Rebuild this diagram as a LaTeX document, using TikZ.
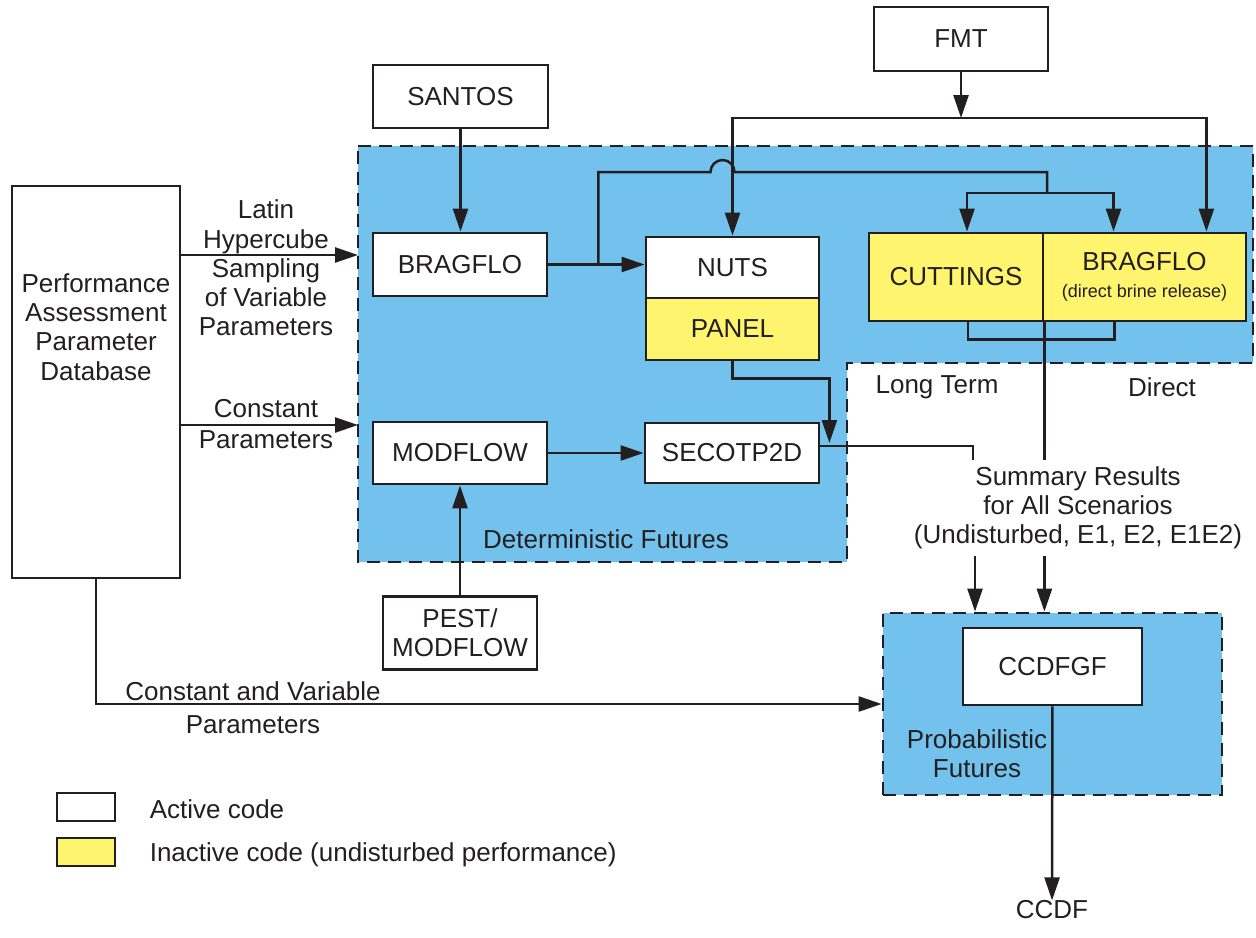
\documentclass[tikz,border=0pt]{standalone}
\usepackage{fontspec}
\setmainfont{Liberation Sans}
\usetikzlibrary{arrows.meta,positioning,calc}
\definecolor{ink}{HTML}{231F20}
\definecolor{sky}{HTML}{73C2EE}
\definecolor{lemon}{HTML}{FFF46E}

\begin{document}
\begin{tikzpicture}[x=0.5pt,y=-0.5pt,
  font=\fontsize{13pt}{14.6pt}\selectfont,text=ink,
  blk/.style={draw=ink,fill=white,line width=1.4pt,inner sep=0pt,align=center},
  idle/.style={blk,fill=lemon},
  region/.style={draw=ink,fill=sky,line width=1.4pt,dash pattern=on 6.5pt off 4pt},
  ln/.style={draw=ink,line width=1.25pt},
  ar/.style={ln,-{Triangle[length=11.5pt,width=7.5pt]}},
  lbl/.style={align=center,inner sep=0pt}]
\useasboundingbox (0,0) rectangle (1256,937);

% shaded areas
\draw[region] (358,146) -- (1253,146) -- (1253,363) -- (847,363) -- (847,562) -- (358,562) -- cycle;
\coordinate (dl) at (358,146);
\node[region,minimum width=169.5pt,minimum height=91pt] (prob) at (1052.5,704) {};

% codes
\node[blk,minimum width=84pt,minimum height=196pt] (db) at (96,382) {};
\node[lbl] at (96,327) {Performance\\Assessment\\Parameter\\Database};
\node[blk,minimum width=87.5pt,minimum height=31.5pt] (santos) at (460.5,96.5) {SANTOS};
\node[blk,minimum width=87pt,minimum height=32pt] (fmt) at (961,39) {FMT};
\node[blk,minimum width=87pt,minimum height=31.5pt] (bragflo) at (460,264.5) {BRAGFLO};
\node[blk,minimum width=86.5pt,minimum height=30.5pt] (nuts) at (732.5,267.5) {NUTS};
\node[idle,minimum width=86.5pt,minimum height=31pt] (panel) at (732.5,329) {PANEL};
\node[idle,minimum width=87pt,minimum height=44pt] (cut) at (956,277) {CUTTINGS};
\node[idle,minimum width=101.5pt,minimum height=44pt] (dbr) at (1144.5,277)
  {BRAGFLO\\[-1pt]{\fontsize{9pt}{10pt}\selectfont(direct brine release)}};
\node[blk,minimum width=87pt,minimum height=31pt] (modflow) at (460,453) {MODFLOW};
\node[blk,minimum width=87pt,minimum height=30pt] (secotp) at (732,453) {SECOTP2D};
\node[blk,minimum width=77pt,minimum height=36.5pt] (pest) at (460,633) {PEST/\\MODFLOW};
\node[blk,minimum width=89.5pt,minimum height=38.5pt] (ccdfgf) at (1052.5,666.5) {CCDFGF};

% texts
\node[lbl,inner sep=3pt] (sum) at (1078,508) {Summary Results\\for All Scenarios\\(Undisturbed, E1, E2, E1E2)};
\node[lbl] at (266,268) {Latin\\Hypercube\\Sampling\\of Variable\\Parameters};
\node[lbl] at (266,424) {Constant\\[1pt]Parameters};
\node[lbl] at (253,708) {Constant and Variable\\[2pt]Parameters};
\node[lbl] at (606,539) {Deterministic Futures};
\node[lbl] at (937,387) {Long Term};
\node[lbl] at (1162,387) {Direct};
\node[lbl] at (977,754) {Probabilistic\\Futures};
\node[lbl] (ccdf) at (1052,910) {CCDF};

% legend
\node[blk,minimum width=29pt,minimum height=14pt] (kact) at (86,807) {};
\node[idle,minimum width=29pt,minimum height=14pt] (kina) at (86,852) {};
\node[lbl,right=16.5pt of kact,yshift=-1pt] {Active code};
\node[lbl,right=16.5pt of kina,yshift=-1.5pt] {Inactive code (undisturbed performance)};

% connectors
\draw[ar] (santos.south) -- (santos.south |- bragflo.north);
\draw[ar] (bragflo.east) -- (bragflo.east -| nuts.west);
\draw[ar] (modflow) -- (secotp);
\draw[ar] (pest) -- (modflow);
\draw[ar] (ccdfgf) -- (ccdf);

\coordinate (ft) at (961,118);
\draw[ar] (fmt) -- (ft);
\draw[ar] (ft) -| (nuts.north);
\draw[ar] (ft) -| ($(dbr.north east)+(-41,0)$);

\coordinate (bj) at ($(bragflo.east)+(50,0)$);
\coordinate (hop) at (nuts.north |- 0,172);
\coordinate (bk) at (1047,172);
\draw[ln] (bj) |- ([xshift=-11pt]hop) arc[start angle=180,end angle=0,radius=6pt] -- (bk) -- ++(0,21) coordinate (bm);
\draw[ar] (bm) -| ($(cut.north)+(11,0)$);
\draw[ar] (bm) -| ($(dbr.north)+(-31,0)$);

\draw[ln] ($(cut.south)+(12,0)$) -- ++(0,17) -| ($(dbr.south)+(-30,0)$);
\draw[ln] (cut.south east) -- (cut.south east |- sum.north);

\coordinate (so) at ($(secotp.east)+(0,-7)$);
\draw[ln] (so) -| ($(sum.north)+(-105,0)$);
\draw[ar] (panel.south) -- ++(0,17) -| ($(so)+(9,-3)$);

\draw[ar] (db.east |- 0,255) -- (dl |- 0,255);
\draw[ar] (db.east |- 0,425) -- (dl |- 0,425);
\draw[ar] (db.south) |- (prob.west);

\draw[ar] (sum.south -| 975,0) -- (prob.north -| 975,0);
\draw[ar] (sum.south -| cut.south east) -- (prob.north -| cut.south east);
\end{tikzpicture}
\end{document}
